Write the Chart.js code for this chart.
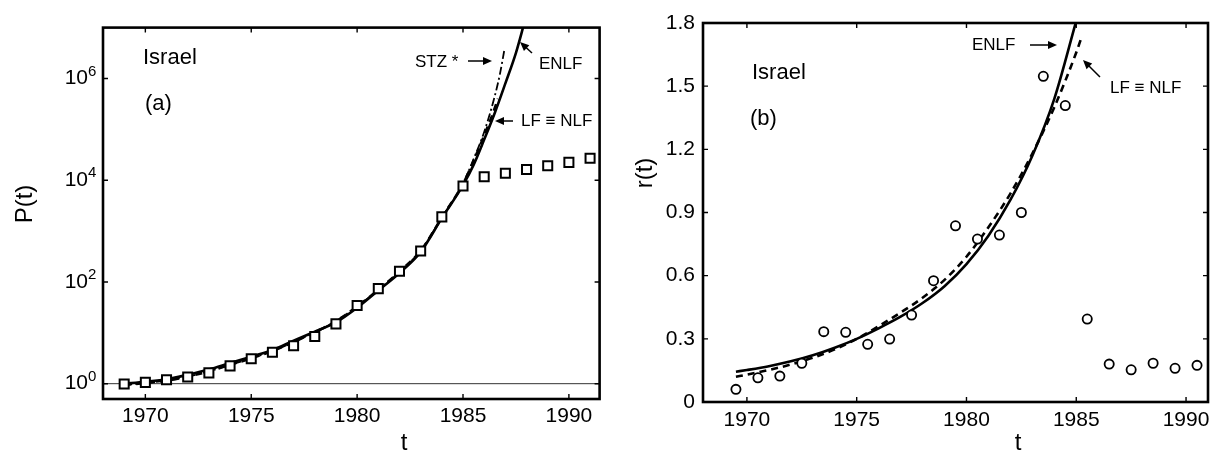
<!DOCTYPE html>
<html>
<head>
<meta charset="utf-8">
<script src="https://cdn.jsdelivr.net/npm/chart.js@4.4.0/dist/chart.umd.min.js"></script>
<style>
  html, body { margin: 0; padding: 0; background: #fff; }
  #wrap { position: relative; width: 1216px; height: 451px; }
  .panel { position: absolute; top: 0; width: 608px; height: 451px; }
  #pa { left: 0; }
  #pb { left: 608px; }
</style>
</head>
<body>
<div id="wrap">
  <div class="panel" id="pa"><canvas id="chartA" width="608" height="451"></canvas></div>
  <div class="panel" id="pb"><canvas id="chartB" width="608" height="451"></canvas></div>
</div>
<script>
const FONT = '"Liberation Sans", Arial, Helvetica, sans-serif';

// ---- panel (a): P(t), log scale ----
const yearsA = [1969, 1970, 1971, 1972, 1973, 1974, 1975, 1976, 1977, 1978, 1979, 1980,
                1981, 1982, 1983, 1984, 1985, 1986, 1987, 1988, 1989, 1990, 1991];
const priceA = [0.99, 1.06, 1.19, 1.35, 1.63, 2.24, 3.1, 4.15, 5.55, 8.5, 15, 34.5,
                74, 163, 405, 1900, 7700, 11700, 13700, 16300, 19300, 22400, 27000];

const enlfA_t = [1969, 1970, 1971, 1972, 1973, 1974, 1975, 1976, 1977, 1978, 1979, 1980,
                 1981, 1982, 1983, 1984, 1985, 1985.5, 1986, 1986.5, 1987, 1987.5, 1987.9];
const enlfA_P = [1.0, 1.09, 1.22, 1.5, 1.9, 2.55, 3.4, 4.6, 7.0, 10.5, 16, 31,
                 68, 150, 390, 1800, 8000, 20000, 63000, 210000, 800000, 3200000, 12600000];

const lfA_t = [1969, 1970, 1971, 1972, 1973, 1974, 1975, 1976, 1977, 1978, 1979, 1980,
               1981, 1982, 1983, 1984, 1985, 1985.5, 1986, 1986.4, 1986.65];
const lfA_P = [0.95, 1.03, 1.15, 1.38, 1.75, 2.35, 3.15, 4.4, 6.6, 10.3, 17, 33,
               70, 160, 410, 1850, 8500, 24000, 76000, 200000, 400000];

const stzA_t = [1969, 1970, 1971, 1972, 1973, 1974, 1975, 1976, 1977, 1978, 1979, 1980,
                1981, 1982, 1983, 1984, 1985, 1985.5, 1986, 1986.5, 1986.75, 1986.95];
const stzA_P = [0.95, 1.03, 1.15, 1.38, 1.75, 2.35, 3.15, 4.4, 6.6, 10.3, 17, 33,
                70, 160, 410, 1850, 8700, 26000, 89000, 450000, 1260000, 3600000];

const xTicks = [1970, 1975, 1980, 1985, 1990];
const yTicksA = [1, 100, 10000, 1000000];
const yBaseA = ['10', '10', '10', '10'];
const yExpA = ['0', '2', '4', '6'];

// ---- panel (b): r(t) ----
const halfYearsB = [1969.5, 1970.5, 1971.5, 1972.5, 1973.5, 1974.5, 1975.5, 1976.5, 1977.5, 1978.5, 1979.5,
                    1980.5, 1981.5, 1982.5, 1983.5, 1984.5, 1985.5, 1986.5, 1987.5, 1988.5, 1989.5, 1990.5];
const rateB = [0.06, 0.115, 0.123, 0.184, 0.334, 0.331, 0.274, 0.299, 0.413, 0.576, 0.837,
               0.774, 0.793, 0.90, 1.547, 1.408, 0.394, 0.180, 0.153, 0.184, 0.160, 0.174];

const enlfB_t = [1969.5, 1970, 1971, 1972, 1973, 1974, 1975, 1976, 1977, 1978, 1979,
                 1980, 1981, 1982, 1983, 1984, 1985];
const enlfB_r = [0.144, 0.152, 0.17, 0.193, 0.222, 0.258, 0.30, 0.35, 0.405, 0.47, 0.55,
                 0.655, 0.79, 0.96, 1.17, 1.44, 1.81];

const lfB_t = [1969.5, 1970, 1971, 1972, 1973, 1974, 1975, 1976, 1977, 1978, 1979,
               1980, 1981, 1982, 1983, 1984, 1985, 1985.2];
const lfB_r = [0.12, 0.13, 0.152, 0.178, 0.21, 0.25, 0.30, 0.36, 0.425, 0.495, 0.58,
               0.69, 0.83, 0.99, 1.18, 1.40, 1.66, 1.72];

const yTicksB = [0, 0.3, 0.6, 0.9, 1.2, 1.5, 1.8];
const yLabelsB = ['0', '0.3', '0.6', '0.9', '1.2', '1.5', '1.8'];

const zip = (xs, ys) => xs.map((x, i) => ({ x: x, y: ys[i] }));

function arrow(ctx, x1, y1, x2, y2) {
  const a = Math.atan2(y2 - y1, x2 - x1);
  const hl = 9, hw = 4;
  ctx.beginPath();
  ctx.moveTo(x1, y1);
  ctx.lineTo(x2 - hl * 0.7 * Math.cos(a), y2 - hl * 0.7 * Math.sin(a));
  ctx.stroke();
  ctx.beginPath();
  ctx.moveTo(x2, y2);
  ctx.lineTo(x2 - hl * Math.cos(a) + hw * Math.sin(a), y2 - hl * Math.sin(a) - hw * Math.cos(a));
  ctx.lineTo(x2 - hl * Math.cos(a) - hw * Math.sin(a), y2 - hl * Math.sin(a) + hw * Math.cos(a));
  ctx.closePath();
  ctx.fill();
}

// box with inward ticks on all four sides, plus text notes and arrows
const framePlugin = {
  id: 'frame',
  afterDatasetsDraw(chart, args, opts) {
    const { ctx, chartArea: a, scales: { x, y } } = chart;
    ctx.save();
    ctx.strokeStyle = '#000';
    ctx.lineWidth = 1.4;
    ctx.beginPath();
    x.ticks.forEach(t => {
      const px = x.getPixelForValue(t.value);
      ctx.moveTo(px, a.bottom); ctx.lineTo(px, a.bottom - 5);
      ctx.moveTo(px, a.top); ctx.lineTo(px, a.top + 5);
    });
    y.ticks.forEach(t => {
      const py = y.getPixelForValue(t.value);
      ctx.moveTo(a.left, py); ctx.lineTo(a.left + 5, py);
      ctx.moveTo(a.right, py); ctx.lineTo(a.right - 5, py);
    });
    ctx.stroke();
    ctx.lineWidth = 2.6;
    ctx.strokeRect(a.left, a.top, a.right - a.left, a.bottom - a.top);

    ctx.fillStyle = '#000';
    // exponents of the log tick labels
    if (opts.exps) {
      ctx.font = '15px ' + FONT;
      ctx.textAlign = 'left';
      ctx.textBaseline = 'middle';
      y.ticks.forEach((t, i) => {
        ctx.fillText(opts.exps[i], a.left - 15, y.getPixelForValue(t.value) - 7);
      });
    }

    ctx.textBaseline = 'middle';
    (opts.notes || []).forEach(n => {
      ctx.font = n.size + 'px ' + FONT;
      ctx.textAlign = n.align || 'left';
      ctx.fillText(n.text, n.x, n.y);
    });
    ctx.lineWidth = 1.5;
    (opts.arrows || []).forEach(r => arrow(ctx, r[0], r[1], r[2], r[3]));

    // axis titles
    ctx.font = '24px ' + FONT;
    ctx.textAlign = 'center';
    ctx.textBaseline = 'alphabetic';
    ctx.fillText(opts.xTitle.text, opts.xTitle.x, opts.xTitle.y);
    ctx.translate(opts.yTitle.x, opts.yTitle.y);
    ctx.rotate(-Math.PI / 2);
    ctx.textBaseline = 'middle';
    ctx.fillText(opts.yTitle.text, 0, 0);
    ctx.restore();
  }
};

const tickFont = { family: FONT, size: 21 };

function xScale(max, pad, h) {
  return {
    type: 'linear', min: 1968, max: max,
    grid: { display: false, drawTicks: false },
    border: { display: false },
    afterBuildTicks: s => { s.ticks = xTicks.map(v => ({ value: v })); },
    afterFit: s => { s.height = h; },
    ticks: { font: tickFont, color: '#000', padding: pad, maxRotation: 0, autoSkip: false,
             callback: v => String(v) }
  };
}

new Chart(document.getElementById('chartA'), {
  type: 'line',
  data: {
    datasets: [
      { data: zip(yearsA, priceA), showLine: false, pointStyle: 'rect', pointRadius: 6.4,
        borderWidth: 2, borderColor: '#000', backgroundColor: '#fff' },
      { data: zip(enlfA_t, enlfA_P), borderColor: '#000', borderWidth: 2.6, pointRadius: 0,
        cubicInterpolationMode: 'monotone', clip: 0 },
      { data: zip(lfA_t, lfA_P), borderColor: '#000', borderWidth: 2.6, borderDash: [7, 5],
        pointRadius: 0, cubicInterpolationMode: 'monotone', clip: 0 },
      { data: zip(stzA_t, stzA_P), borderColor: '#000', borderWidth: 1.8, borderDash: [8, 3, 2, 3],
        pointRadius: 0, cubicInterpolationMode: 'monotone', clip: 0 },
      { data: [{ x: 1968, y: 1 }, { x: 1991.45, y: 1 }], borderColor: '#333', borderWidth: 1,
        pointRadius: 0 }
    ]
  },
  options: {
    responsive: false, animation: false, events: [],
    layout: { padding: { left: 0, right: 8, top: 10, bottom: 0 } },
    scales: {
      x: xScale(1991.45, 5, 52),
      y: {
        type: 'logarithmic', min: 0.5, max: 1e7,
        grid: { display: false, drawTicks: false },
        border: { display: false },
        afterBuildTicks: s => { s.ticks = yTicksA.map(v => ({ value: v })); },
        afterFit: s => { s.width = 103; },
        ticks: { font: tickFont, color: '#000', padding: 15, autoSkip: false,
                 callback: (v, i) => yBaseA[i] }
      }
    },
    plugins: {
      legend: { display: false }, tooltip: { enabled: false },
      frame: {
        exps: yExpA,
        notes: [
          { text: 'Israel', x: 143, y: 58, size: 22 },
          { text: '(a)', x: 145, y: 104, size: 22 },
          { text: 'STZ *', x: 415, y: 62, size: 17 },
          { text: 'ENLF', x: 539, y: 64, size: 17 },
          { text: 'LF \u2261 NLF', x: 521, y: 121, size: 17 }
        ],
        arrows: [[468, 61, 492, 61], [532, 53, 520, 42], [513, 121, 495, 121]],
        xTitle: { text: 't', x: 404, y: 450 },
        yTitle: { text: 'P(t)', x: 25, y: 204 }
      }
    }
  },
  plugins: [framePlugin]
});

new Chart(document.getElementById('chartB'), {
  type: 'line',
  data: {
    datasets: [
      { data: zip(halfYearsB, rateB), showLine: false, pointStyle: 'circle', pointRadius: 4.6,
        borderWidth: 1.8, borderColor: '#000', backgroundColor: '#fff' },
      { data: zip(enlfB_t, enlfB_r), borderColor: '#000', borderWidth: 2.6, pointRadius: 0,
        cubicInterpolationMode: 'monotone', clip: 0 },
      { data: zip(lfB_t, lfB_r), borderColor: '#000', borderWidth: 2.6, borderDash: [7, 5],
        pointRadius: 0, cubicInterpolationMode: 'monotone', clip: 0 }
    ]
  },
  options: {
    responsive: false, animation: false, events: [],
    layout: { padding: { left: 0, right: 8, top: 23, bottom: 0 } },
    scales: {
      x: xScale(1991, 6, 49),
      y: {
        type: 'linear', min: 0, max: 1.8,
        grid: { display: false, drawTicks: false },
        border: { display: false },
        afterBuildTicks: s => { s.ticks = yTicksB.map(v => ({ value: v })); },
        afterFit: s => { s.width = 95; },
        ticks: { font: tickFont, color: '#000', padding: 8, autoSkip: false,
                 callback: (v, i) => yLabelsB[i] }
      }
    },
    plugins: {
      legend: { display: false }, tooltip: { enabled: false },
      frame: {
        notes: [
          { text: 'Israel', x: 144, y: 73, size: 22 },
          { text: '(b)', x: 142, y: 119, size: 22 },
          { text: 'ENLF', x: 364, y: 45, size: 17 },
          { text: 'LF \u2261 NLF', x: 502, y: 88, size: 17 }
        ],
        arrows: [[422, 45, 449, 45], [492, 77, 475, 60]],
        xTitle: { text: 't', x: 410, y: 450 },
        yTitle: { text: 'r(t)', x: 37, y: 173 }
      }
    }
  },
  plugins: [framePlugin]
});
</script>
</body>
</html>
